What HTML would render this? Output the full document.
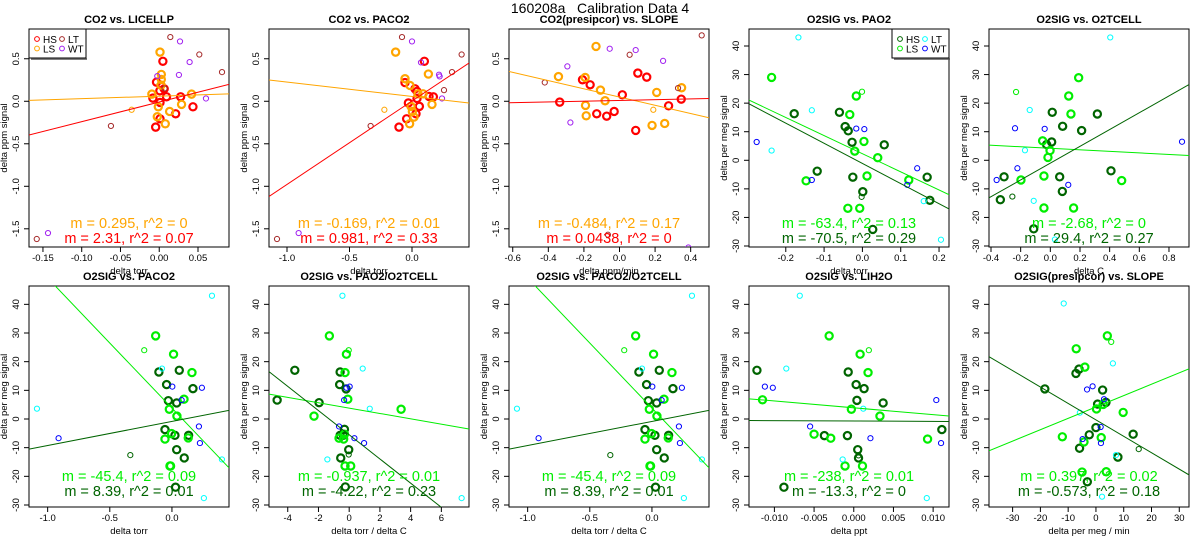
<!DOCTYPE html>
<html><head><meta charset="utf-8"><style>
body{margin:0;background:#fff;}
svg{display:block;font-family:"Liberation Sans",Arial,sans-serif;}
#main-title{white-space:pre;}
</style></head><body>
<svg id="chart" width="1200" height="550" viewBox="0 0 1200 550">
<text id="main-title" x="600" y="13" text-anchor="middle" font-size="14" xml:space="preserve">160208a   Calibration Data 4</text>
</svg>
<script>
// ---- CO2 panels data ----
const p1_HS=[[0.0047,0.47],[-0.0035,0.225],[0.0008,0.123],[0.0064,0.147],[-0.0082,0.037],[0.0094,0.053],[0.0276,0.053],[0.001,-0.014],[0.0212,-0.147],[0.001,-0.206],[0.0435,-0.065],[-0.0046,-0.304]];
const p1_LS=[[0.001,0.578],[0.0027,0.316],[0.0027,0.257],[0.0023,0.19],[-0.0095,0.084],[0.0417,0.084],[0.0288,-0.037],[-0.0012,-0.065],[0.0134,-0.12],[-0.0025,-0.182],[0.0078,-0.265]];
const p1_HSt=[];
const p1_LSt=[[-0.0356,-0.1]];
const p1_LT=[[0.0143,0.755],[0.0517,0.55],[0.081,0.343],[0.0069,0.151],[-0.0623,-0.29],[-0.158,-1.62]];
const p1_WT=[[0.0268,0.704],[0.0392,0.461],[0.0254,0.31],[-0.0025,0.296],[0.0603,0.033],[-0.1435,-1.55]];

const p2_HS=[[0.099,0.47],[-0.056,0.22],[0.024,0.147],[0.04,0.116],[-0.029,-0.02],[0.04,0.033],[0.136,0.057],[0.171,0.053],[0.059,-0.06],[0.032,-0.147],[-0.043,-0.206],[-0.104,-0.304]];
const p2_LS=[[-0.131,0.578],[0.131,0.32],[-0.056,0.265],[-0.016,0.186],[0.088,0.088],[0.048,0.088],[-0.008,-0.06],[0.003,-0.12],[0.016,-0.186],[-0.019,-0.265],[0.16,-0.037]];
const p2_HSt=[];
const p2_LSt=[[-0.221,-0.1]];
const p2_LT=[[-0.08,0.755],[0.397,0.55],[0.32,0.343],[0.256,0.131],[-0.331,-0.29],[-1.08,-1.62]];
const p2_WT=[[0,0.704],[0.072,0.457],[0.216,0.312],[0.221,0.292],[0.24,0.033],[-0.907,-1.55]];

const p3_HS=[[-0.208,0.253],[-0.165,0.194],[0.103,0.331],[0.153,0.284],[0.016,0.076],[0.347,0.025],[0.276,-0.053],[-0.336,-0.01],[-0.128,-0.147],[-0.072,-0.175],[-0.03,-0.12],[0.091,-0.343]];
const p3_LS=[[-0.132,0.645],[-0.343,0.29],[-0.193,0.28],[-0.107,0.131],[0.209,0.104],[0.349,0.159],[-0.081,0.006],[-0.191,-0.049],[-0.187,-0.171],[0.183,-0.284],[0.254,-0.261]];
const p3_HSt=[];
const p3_LSt=[[0.19,-0.1]];
const p3_LT=[[0.462,0.775],[0.057,0.547],[-0.42,0.221],[0.329,0.155],[-0.065,-1.57]];
const p3_WT=[[-0.055,0.618],[0.091,0.602],[-0.293,0.41],[0.245,0.475],[-0.276,-0.25],[0.387,-1.72]];

// ---- O2 panels data ----
const p4_HS=[[-0.178,16.3],[-0.06,16.8],[-0.045,11.8],[-0.037,10.3],[-0.027,6.3],[-0.025,-5.9],[-0.118,-3.8],[0.057,5.4],[0.001,-11],[0.169,-5.9],[0.176,-14],[0.027,-24.2]];
const p4_LS=[[-0.237,29],[-0.016,22.5],[-0.033,16],[0.004,6.6],[-0.02,3.2],[0.04,0.9],[-0.147,-7.2],[0.012,-5.5],[0.121,-6.9],[-0.038,-16.8],[-0.007,-16.8]];
const p4_HSt=[[-0.002,-12.8]];
const p4_LSt=[[-0.001,24]];
const p4_LT=[[-0.167,43],[-0.132,17.5],[-0.237,3.4],[0.16,-14.3],[0.205,-27.8]];
const p4_WT=[[-0.276,6.4],[-0.016,11.1],[0.005,10.9],[-0.132,-6.9],[0.143,-2.8],[0.117,-8.6]];

const p5_HS=[[0.013,16.8],[0.083,11.9],[-0.025,5.5],[0.009,6.4],[0.211,10.4],[0.317,16.2],[-0.312,-5.8],[-0.337,-13.8],[0.063,-5.8],[0.081,-10.9],[0.409,-3.7],[-0.112,-24]];
const p5_LS=[[0.191,28.9],[0.124,22.5],[0.139,16.2],[-0.052,6.8],[-0.002,3.4],[-0.016,1.0],[-0.043,-5.5],[-0.198,-6.9],[0.481,-7.1],[-0.043,-16.7],[0.157,-16.7]];
const p5_HSt=[[-0.256,-12.7]];
const p5_LSt=[[-0.231,23.9]];
const p5_LT=[[0.404,43],[-0.139,17.6],[-0.171,3.5],[-0.112,-14.2],[0.031,-27.7]];
const p5_WT=[[-0.238,11.2],[-0.038,11],[-0.362,-6.9],[-0.222,-2.8],[0.121,-8.6],[0.888,6.5]];

const p6_HS=[[-0.105,16.4],[0.059,17],[-0.043,12],[0.169,10.6],[-0.029,6.4],[0.038,5.6],[-0.056,-3.7],[0.024,-5.7],[0.134,-5.7],[0.038,-10.7],[0.099,-13.6],[0.029,-23.8]];
const p6_LS=[[-0.131,29],[0.013,22.6],[0.161,16.2],[0.097,6.9],[-0.021,3.4],[0.04,1.0],[-0.003,-5.1],[-0.056,-7],[0.131,-6.6],[-0.011,-16.4],[-0.016,-16.4]];
const p6_HSt=[[-0.335,-12.6]];
const p6_LSt=[[-0.223,24]];
const p6_LT=[[0.322,43],[-0.08,17.6],[-1.086,3.6],[0.402,-14.1],[0.257,-27.6]];
const p6_WT=[[0.003,11.3],[0.241,10.9],[0.078,6.6],[-0.912,-6.7],[0.217,-2.6],[0.225,-8.4]];

const p7_HS=[[-3.54,17],[-0.59,16.4],[-0.62,12],[-0.2,10.5],[-1.96,5.7],[-4.69,6.6],[-0.31,-3.6],[-0.59,-5.7],[-0.38,-5.7],[-0.03,-10.7],[-0.55,-13.6],[-0.25,-23.7]];
const p7_LS=[[-1.29,29],[-0.18,22.6],[-0.27,16.2],[-0.09,6.9],[-2.29,1.0],[3.38,3.4],[-0.31,-5.3],[-0.66,-6.7],[-0.36,-7],[-0.27,-16.4],[0.1,-16.4]];
const p7_HSt=[[-0.03,-12.4]];
const p7_LSt=[[-0.03,24]];
const p7_LT=[[-0.44,43],[0.88,17.6],[1.34,3.6],[-1.42,-14.1],[7.32,-27.6]];
const p7_WT=[[0.03,11.3],[-0.18,10.9],[-0.33,6.6],[-0.66,-2.6],[0.34,-6.7],[0.97,-8.4]];

const p9_HS=[[-0.0122,17],[-0.0007,16.4],[0.0003,12],[0.0013,10.6],[0.0004,6.5],[0.0037,5.6],[0.0111,-3.7],[-0.0037,-5.8],[-0.0008,-5.8],[0.0005,-10.7],[0.0006,-13.6],[-0.0088,-23.8]];
const p9_LS=[[-0.0031,29],[0.0008,22.6],[0.0018,16.2],[-0.0115,6.7],[-0.0003,3.4],[0.0033,1.0],[-0.005,-5.3],[-0.0029,-6.7],[0.0093,-7],[-0.0011,-16.4],[0.0011,-16.4]];
const p9_HSt=[[0.0006,-12.7]];
const p9_LSt=[[0.0019,24]];
const p9_LT=[[-0.0068,43],[-0.0085,17.6],[0.0012,3.6],[-0.0014,-14.1],[0.0092,-27.6]];
const p9_WT=[[-0.0112,11.3],[-0.0102,10.9],[0.0104,6.6],[-0.0055,-2.6],[0.0021,-6.7],[0.011,-8.4]];

const p10_HS=[[-18.4,10.5],[-7.2,15.9],[-6.1,17.4],[2.4,10.1],[0.6,5.2],[3.6,5.8],[0,-3],[-2.4,-5.5],[13.4,-5.3],[-5.9,-10.2],[7.9,-13.3],[-3.1,-21.9]];
const p10_LS=[[4.1,29],[-7.1,24.5],[-4,18.1],[0.2,3.5],[2.6,5.1],[9.8,2.3],[-12.1,-6.2],[1.9,-6.5],[-4.3,-8],[-5,-18.5],[3.7,-18.4]];
const p10_HSt=[[15.4,-10.5]];
const p10_LSt=[[5.5,26.9]];
const p10_LT=[[-11.6,40.3],[6.1,19.4],[-5.8,2.2],[7.2,-12.6],[2.2,-27.1]];
const p10_WT=[[-3.2,10.3],[-1.2,11.4],[2.9,6.9],[1.7,-2.8],[-4.8,-7],[1.8,-8.4]];

// regression fits [slope, intercept] for LS and HS
const fitsLS=[[0.295,0.06],[-0.169,0.057],[-0.484,0.05],[-63.4,2.3],[-2.68,4.2],[-45.4,3.8],[-0.937,3.8],[-45.4,3.8],[-238,3.9],[0.397,4.2]];
const fitsHS=[[2.31,-0.009],[0.981,0.003],[0.0438,0.01],[-70.5,-1.1],[29.4,-1.0],[8.39,-0.85],[-4.22,-5.5],[8.39,-0.85],[-13.3,-0.7],[-0.573,-0.3]];
const labelsLS=["m = 0.295, r^2 = 0","m = -0.169, r^2 = 0.01","m = -0.484, r^2 = 0.17","m = -63.4, r^2 = 0.13","m = -2.68, r^2 = 0","m = -45.4, r^2 = 0.09","m = -0.937, r^2 = 0.01","m = -45.4, r^2 = 0.09","m = -238, r^2 = 0.01","m = 0.397, r^2 = 0.02"];
const labelsHS=["m = 2.31, r^2 = 0.07","m = 0.981, r^2 = 0.33","m = 0.0438, r^2 = 0","m = -70.5, r^2 = 0.29","m = 29.4, r^2 = 0.27","m = 8.39, r^2 = 0.01","m = -4.22, r^2 = 0.23","m = 8.39, r^2 = 0.01","m = -13.3, r^2 = 0","m = -0.573, r^2 = 0.18"];
const titles=["CO2 vs. LICELLP","CO2 vs. PACO2","CO2(presipcor) vs. SLOPE","O2SIG vs. PAO2","O2SIG vs. O2TCELL","O2SIG vs. PACO2","O2SIG vs. PAO2/O2TCELL","O2SIG vs. PACO2/O2TCELL","O2SIG vs. LIH2O","O2SIG(presipcor) vs. SLOPE"];
const xlabels=["delta torr","delta torr","delta ppm/min","delta torr","delta C","delta torr","delta torr / delta C","delta torr / delta C","delta ppt","delta per meg / min"];
const xlims=[[-0.168,0.09],[-1.144,0.456],[-0.621,0.503],[-0.296,0.226],[-0.4135,0.935],[-1.15,0.459],[-5.22,7.8],[-1.15,0.459],[-0.0132,0.012],[-38.5,33.5]];
const xticks=[["-0.15","-0.10","-0.05","0.00","0.05"],["-1.0","-0.5","0.0"],["-0.6","-0.4","-0.2","0.0","0.2","0.4"],["-0.2","-0.1","0.0","0.1","0.2"],["-0.4","-0.2","0.0","0.2","0.4","0.6","0.8"],["-1.0","-0.5","0.0"],["-4","-2","0","2","4","6"],["-1.0","-0.5","0.0"],["-0.010","-0.005","0.000","0.005","0.010"],["-30","-20","-10","0","10","20","30"]];
const co2Yticks=["-1.5","-1.0","-0.5","0.0","0.5"];
const o2Yticks=["-30","-20","-10","0","10","20","30","40"];
const co2Ylim=[-1.714,0.85];
const o2YlimTop=[-30.35,45.95];
const o2YlimBot=[-30.7,46.4];

const panelData=[
 [p1_HS,p1_LS,p1_HSt,p1_LSt,p1_LT,p1_WT],[p2_HS,p2_LS,p2_HSt,p2_LSt,p2_LT,p2_WT],[p3_HS,p3_LS,p3_HSt,p3_LSt,p3_LT,p3_WT],
 [p4_HS,p4_LS,p4_HSt,p4_LSt,p4_LT,p4_WT],[p5_HS,p5_LS,p5_HSt,p5_LSt,p5_LT,p5_WT],[p6_HS,p6_LS,p6_HSt,p6_LSt,p6_LT,p6_WT],
 [p7_HS,p7_LS,p7_HSt,p7_LSt,p7_LT,p7_WT],[p6_HS,p6_LS,p6_HSt,p6_LSt,p6_LT,p6_WT],[p9_HS,p9_LS,p9_HSt,p9_LSt,p9_LT,p9_WT],
 [p10_HS,p10_LS,p10_HSt,p10_LSt,p10_LT,p10_WT]];

const NS="http://www.w3.org/2000/svg";
const svg=document.getElementById('chart');
function mk(tag,attrs,parent){const e=document.createElementNS(NS,tag);for(const k in attrs)e.setAttribute(k,attrs[k]);(parent||svg).appendChild(e);return e;}

for(let i=0;i<10;i++){
  const co2=i<3;
  const col=i%5,row=i<5?0:1;
  const L=col*240+29,R=col*240+229;
  const T=row?286:29,B=row?507:247;
  const xl=xlims[i];
  const yl=co2?co2Ylim:(row?o2YlimBot:o2YlimTop);
  const sx=v=>L+(v-xl[0])/(xl[1]-xl[0])*(R-L);
  const sy=v=>B-(v-yl[0])/(yl[1]-yl[0])*(B-T);
  const g=mk('g',{});
  
  
  const cp=mk('clipPath',{id:'clip'+i},g);mk('rect',{x:L,y:T,width:R-L,height:B-T},cp);
  const C=co2?{HS:'#ff0000',LS:'#ffa500',LT:'#a52a2a',WT:'#a020f0',HSt:'#ff0000',LSt:'#ffa500'}:{HS:'#006400',LS:'#00ee00',LT:'#00ffff',WT:'#0000ff',HSt:'#006400',LSt:'#00ee00'};
  const t=mk('text',{x:(L+R)/2,y:T-6,'text-anchor':'middle','font-size':11,'font-weight':'bold'},g);t.textContent=titles[i];
  
  
  const bx=mk('rect',{x:L,y:T,width:R-L,height:B-T,fill:'none',stroke:'#000','stroke-width':1},g);
  
  
  const xt=xticks[i].map(Number);
  const xa=mk('g',{},g);
  
  
  mk('line',{x1:sx(xt[0]),x2:sx(xt[xt.length-1]),y1:B,y2:B,stroke:'#000'},xa);
  xt.forEach((v,k)=>{mk('line',{x1:sx(v),x2:sx(v),y1:B,y2:B+5,stroke:'#000'},xa);
    const tl=mk('text',{x:sx(v),y:B+14,'text-anchor':'middle','font-size':9.5},xa);tl.textContent=xticks[i][k];});
  const xlab=mk('text',{x:(L+R)/2,y:B+27,'text-anchor':'middle','font-size':9.5},g);xlab.textContent=xlabels[i];
  
  
  const ytl=co2?co2Yticks:o2Yticks;const yt=ytl.map(Number);
  const ya=mk('g',{},g);
  
  
  mk('line',{x1:L,x2:L,y1:sy(yt[0]),y2:sy(yt[yt.length-1]),stroke:'#000'},ya);
  yt.forEach((v,k)=>{mk('line',{x1:L-5,x2:L,y1:sy(v),y2:sy(v),stroke:'#000'},ya);
    const tl=mk('text',{x:L-10,y:sy(v),'text-anchor':'middle','font-size':9.5,transform:`rotate(-90 ${L-10} ${sy(v)})`},ya);tl.textContent=ytl[k];});
  const ylx=L-22,yly=(T+B)/2;
  const ylab=mk('text',{x:ylx,y:yly,'text-anchor':'middle','font-size':9.5,transform:`rotate(-90 ${ylx} ${yly})`},g);
  ylab.textContent=co2?'delta ppm signal':'delta per meg signal';
  
  
  const keys=['HS','LS','HSt','LSt','LT','WT'];
  const pg=mk('g',{'clip-path':`url(#clip${i})`},g);
  
  
  panelData[i].forEach((arr,gi)=>{const k=keys[gi];const thick=(k==='HS'||k==='LS');
    arr.forEach(p=>{const c=mk('circle',{cx:sx(p[0]),cy:sy(p[1]),r:thick?3.6:2.6,fill:'none',stroke:C[k],'stroke-width':thick?2.2:1},pg);
      
      });});
  [[fitsLS[i],C.LS],[fitsHS[i],C.HS]].forEach(([f,c],li)=>{
    const ln=mk('line',{x1:sx(xl[0]),y1:sy(f[1]+f[0]*xl[0]),x2:sx(xl[1]),y2:sy(f[1]+f[0]*xl[1]),stroke:c,'stroke-width':1,'clip-path':`url(#clip${i})`},g);
    
    });
  const ty1=row?481:228, ty2=row?496:243;
  const a1=mk('text',{x:(L+R)/2,y:ty1,'text-anchor':'middle','font-size':14.5,fill:C.LS},g);a1.textContent=labelsLS[i];
  
  
  const a2=mk('text',{x:(L+R)/2,y:ty2,'text-anchor':'middle','font-size':14.5,fill:C.HS},g);a2.textContent=labelsHS[i];
  
  
  if(i===0||i===3){
    const lx=i===0?L:R-57, ly=T;
    const lg=mk('g',{},g);
    
    
    mk('rect',{x:lx,y:ly,width:57,height:29,fill:'#fff',stroke:'#000'},lg);
    mk('line',{x1:lx+2,x2:lx+58,y1:ly+30,y2:ly+30,stroke:'#555','stroke-width':1.5},lg);
    [['HS',0,0],['LT',1,0],['LS',0,1],['WT',1,1]].forEach(([k,cx,cy])=>{
      const e=mk('g',{},lg);
      
      
      mk('circle',{cx:lx+8+cx*25,cy:ly+10+cy*9.5,r:2.4,fill:'none',stroke:C[k],'stroke-width':1},e);
      const tx=mk('text',{x:lx+14+cx*25,y:ly+14+cy*9.5,'font-size':10},e);tx.textContent=k;});
  }
}
</script>
</body></html>
